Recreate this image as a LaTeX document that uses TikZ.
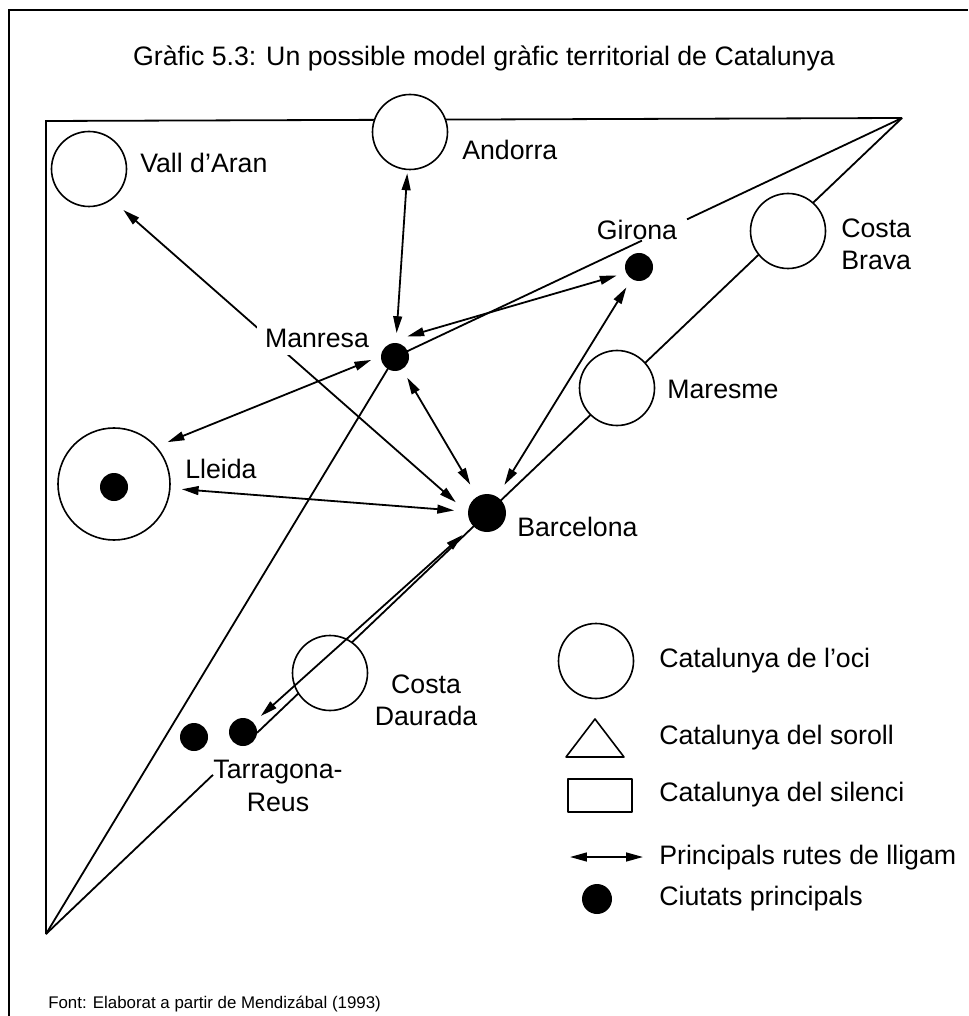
\documentclass[tikz,border=0pt]{standalone}
\usepackage{fontspec}
\setmainfont{Liberation Sans}
\usetikzlibrary{arrows.meta,calc,backgrounds}
\begin{document}
\begin{tikzpicture}[x=0.25mm,y=-0.25mm,line join=round,line cap=round,
	font=\fontsize{19}{23}\selectfont,
	>={Triangle[length=4.2mm,width=2.2mm]},
	oci/.style={circle,draw,fill=white,line width=0.4mm,minimum size=18.75mm,inner sep=0pt,outer sep=1mm},
	ciutat/.style={circle,fill=black,minimum size=7mm,inner sep=0pt,outer sep=2.5mm},
	ruta/.style={<->,line width=0.45mm},
	limit/.style={line width=0.45mm},
	etiq/.style={inner sep=0pt}]
	\useasboundingbox (0,0) rectangle (968,1016);
	\path (484,58)node(titol){Gràfic 5.3: Un possible model gràfic territorial de Catalunya};
	\path (89,169)node[oci,outer sep=4mm](vall){}
	(410,132)node[oci](and){}
	(788,231)node[oci](cbrava){}
	(617,388)node[oci](mar){}
	(330,673)node[oci](cdaur){}
	(114,484)node[oci,minimum size=28mm,outer sep=3mm](lle){};
	\path (395,357)node[ciutat](man){}
	(639,267)node[ciutat](gir){}
	(487,513)node[ciutat,minimum size=9.5mm,outer sep=3.5mm](bcn){}
	(114,487)node[ciutat](llepunt){}
	(194,737)node[ciutat](tar){}
	(243,732)node[ciutat](reus){};
	\begin{scope}[on background layer]
	\coordinate (ne) at (902,118);
	\coordinate (nw) at (46,121);
	\coordinate (sw) at (46,934);
	\draw[line width=0.35mm](9,1016)--(9,10)--(968,10);
	\draw[limit](sw)--(nw)--(ne);
	\draw[limit](ne)--($(ne)!0.424!(man)$) ($(ne)!0.513!(man)$)--(man.center)--(sw);
	\draw[limit](ne)--($(ne)!0.7535!(sw)$) ($(ne)!0.805!(sw)$)--(sw);
	\end{scope}
	\draw[ruta](man)--(and);
	\draw[ruta](man.59)--(gir.201);
	\draw[ruta](man.187)--(lle.38);
	\draw[ruta](man)--(bcn);
	\draw[ruta](lle)--(bcn);
	\draw[ruta](gir)--(bcn);
	\draw[ruta](bcn)--(reus);
	\draw[ruta](vall.-50)--(bcn.161);
	\path (140,163)node[etiq,anchor=west](tvall){Vall d’Aran}
	(462,150)node[etiq,anchor=west](tand){Andorra}
	(637,230)node(tgir){Girona}
	(841,244)node[etiq,anchor=west,align=left](tcbrava){Costa\\Brava}
	(667,389)node[etiq,anchor=west](tmar){Maresme}
	(317,338)node[fill=white,inner sep=2mm](tman){Manresa}
	(185,469)node[etiq,anchor=west](tlle){Lleida}
	(517,527)node[etiq,anchor=west](tbcn){Barcelona}
	(426,700)node[align=center](tcdaur){Costa\\Daurada}
	(278,786)node[align=center](ttar){Tarragona-\\Reus};
	\path (596,661)node[oci](loci){}
	(659,661)node[etiq,anchor=west](toci){Catalunya de l’oci}
	(659,738)node[etiq,anchor=west](tsoroll){Catalunya del soroll}
	(659,795)node[etiq,anchor=west](tsilenci){Catalunya del silenci}
	(659,858)node[etiq,anchor=west](truta){Principals rutes de lligam}
	(597,899)node[ciutat,minimum size=7.5mm](lciutat){}
	(659,899)node[etiq,anchor=west](tciutat){Ciutats principals};
	\draw[line width=0.4mm](566,757)--(595,719)--(624,757)--cycle;
	\draw[line width=0.4mm](568,779) rectangle (632,812);
	\coordinate (la) at (570,857);
	\coordinate (lb) at (643,857);
	\draw[ruta](la)--(lb);
	\path (48,1004)node[etiq,anchor=west,font=\fontsize{12}{14}\selectfont](fontref){Font: Elaborat a partir de Mendizábal (1993)};
\end{tikzpicture}
\end{document}
